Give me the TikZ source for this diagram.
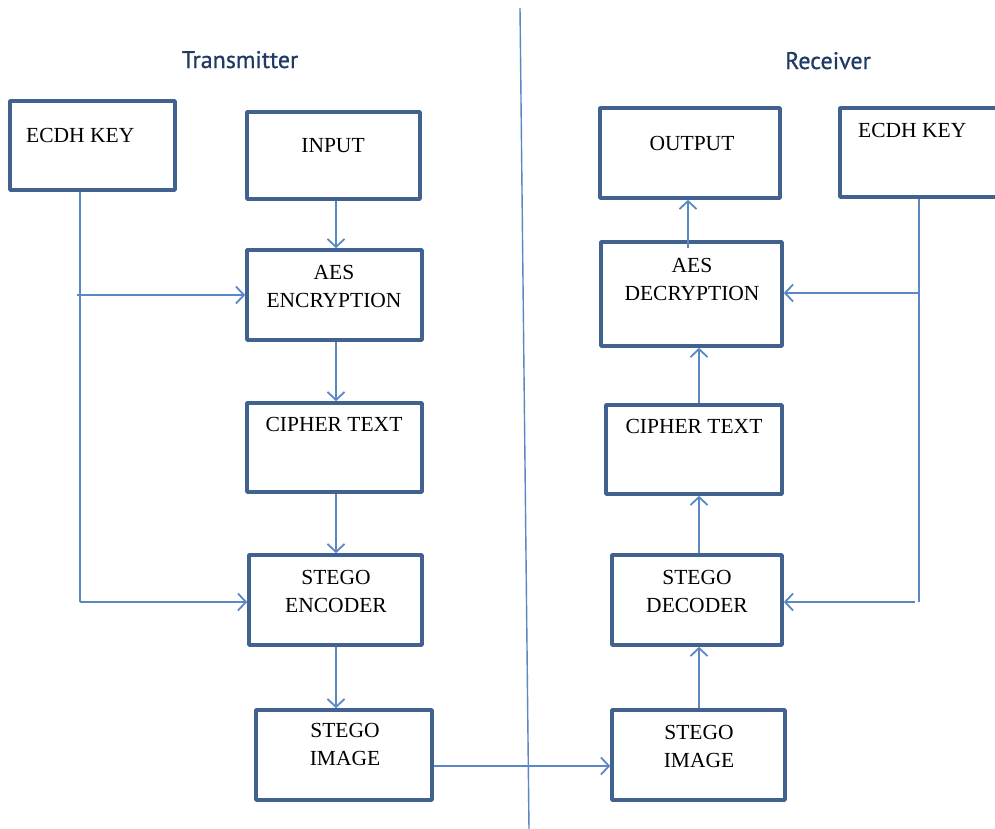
\documentclass[tikz,border=0pt]{standalone}
\usepackage{fontspec}
\setmainfont{Liberation Serif}
\newfontfamily\titlefont[FakeBold=0.7]{PT Sans}
\usetikzlibrary{arrows.meta}
\definecolor{boxblue}{HTML}{41618F}
\definecolor{linkblue}{HTML}{5B87C5}
\definecolor{titleblue}{HTML}{1F3A63}
\tikzset{
  box/.style={draw=boxblue, line width=3.6pt, line join=round, fill=white, inner sep=0pt},
  lbl/.style={font=\fontsize{21.5}{28}\selectfont, align=center, inner sep=0pt, anchor=north, text=black},
  lbll/.style={font=\fontsize{21.5}{28}\selectfont, inner sep=0pt, anchor=north west, text=black},
  ttl/.style={font=\titlefont\fontsize{24}{28}\selectfont, text=titleblue, anchor=base, inner sep=0pt},
  conn/.style={draw=linkblue, line width=1.8pt},
  arr/.style={conn, -{Straight Barb[length=8pt,width=17pt,line width=1.8pt]}},
}
\begin{document}
\begin{tikzpicture}[x=1pt,y=-1pt]
\useasboundingbox (0,0) rectangle (995,828);
\fill[white] (0,0) rectangle (995,828);

% dividing line between the two sides
\coordinate (divtop) at (520,8);
\coordinate (divbot) at (529,830);
\draw[draw=linkblue, line width=1.4pt] (divtop) -- (divbot);

% headings
\node[ttl] (ttx) at (240,68) {Transmitter};
\node[ttl] (trx) at (828,69) {Receiver};

% transmitter boxes
\node[box, minimum width=165, minimum height=89] (keyL) at (92.5,145.5) {};
\node[box, minimum width=173, minimum height=87] (inp)  at (333.5,155.5) {};
\node[box, minimum width=175, minimum height=90] (enc)  at (334.5,295) {};
\node[box, minimum width=175, minimum height=89] (ctL)  at (334.5,447.5) {};
\node[box, minimum width=173, minimum height=90] (senc) at (335.5,600) {};
\node[box, minimum width=176, minimum height=90] (simL) at (344,755) {};

% receiver boxes
\node[box, minimum width=180, minimum height=90]  (outp) at (690,153) {};
\node[box, minimum width=165, minimum height=89]  (keyR) at (922.5,152.5) {};
\node[box, minimum width=181, minimum height=104] (dec)  at (691.5,294) {};
\node[box, minimum width=176, minimum height=89]  (ctR)  at (694,449.5) {};
\node[box, minimum width=170, minimum height=90]  (sdec) at (697,600) {};
\node[box, minimum width=173, minimum height=90]  (simR) at (698.5,755) {};

% box texts
\node[lbll] (tkeyL) at (26,128) {ECDH KEY};
\node[lbl] (tinp) at (333,138) {INPUT};
\node[lbl] (tenc) at (334,265) {AES\\ENCRYPTION};
\node[lbl] (tctL) at (334,417) {CIPHER TEXT};
\node[lbl] (tsenc) at (336,570) {STEGO\\ENCODER};
\node[lbl] (tsimL) at (345,723) {STEGO\\IMAGE};
\node[lbl] (toutp) at (692,136) {OUTPUT};
\node[lbll] (tkeyR) at (858,123) {ECDH KEY};
\node[lbl] (tdec) at (692,258) {AES\\DECRYPTION};
\node[lbl] (tctR) at (694,419) {CIPHER TEXT};
\node[lbl] (tsdec) at (697,570) {STEGO\\DECODER};
\node[lbl] (tsimR) at (699,725) {STEGO\\IMAGE};

% column guides for the vertical connectors
\coordinate (lx) at (336,0);
\coordinate (rx) at (699,0);
\coordinate (ox) at (688,0);
\coordinate (kLx) at (80,0);
\coordinate (kRx) at (919,0);

% transmitter chain
\draw[arr] (inp.south -| lx) -- (enc.north -| lx);
\draw[arr] (enc.south -| lx) -- (ctL.north -| lx);
\draw[arr] (ctL.south -| lx) -- (senc.north -| lx);
\draw[arr] (senc.south -| lx) -- (simL.north -| lx);

% key distribution, transmitter side
\coordinate (kLenc) at (77,295);
\coordinate (kLbot) at (80,602);
\draw[conn] (keyL.south -| kLx) -- (kLbot);
\draw[arr] (kLenc) -- (enc.west |- kLenc);
\draw[arr] (kLbot) -- (senc.west |- kLbot);

% channel between the two stego images
\coordinate (chy) at (0,766);
\draw[arr] (simL.east |- chy) -- (simR.west |- chy);

% receiver chain
\draw[arr] (simR.north -| rx) -- (sdec.south -| rx);
\draw[arr] (sdec.north -| rx) -- (ctR.south -| rx);
\draw[arr] (ctR.north -| rx) -- (dec.south -| rx);
\coordinate (decout) at (688,248);
\draw[arr] (decout) -- (outp.south -| ox);

% key distribution, receiver side
\coordinate (kRdec) at (919,293);
\coordinate (kRbot) at (919,602);
\draw[conn] (keyR.south -| kRx) -- (kRbot);
\draw[arr] (kRdec) -- (dec.east |- kRdec);
\draw[arr] ([xshift=-4pt]kRbot) -- (sdec.east |- kRbot);
\end{tikzpicture}
\end{document}
